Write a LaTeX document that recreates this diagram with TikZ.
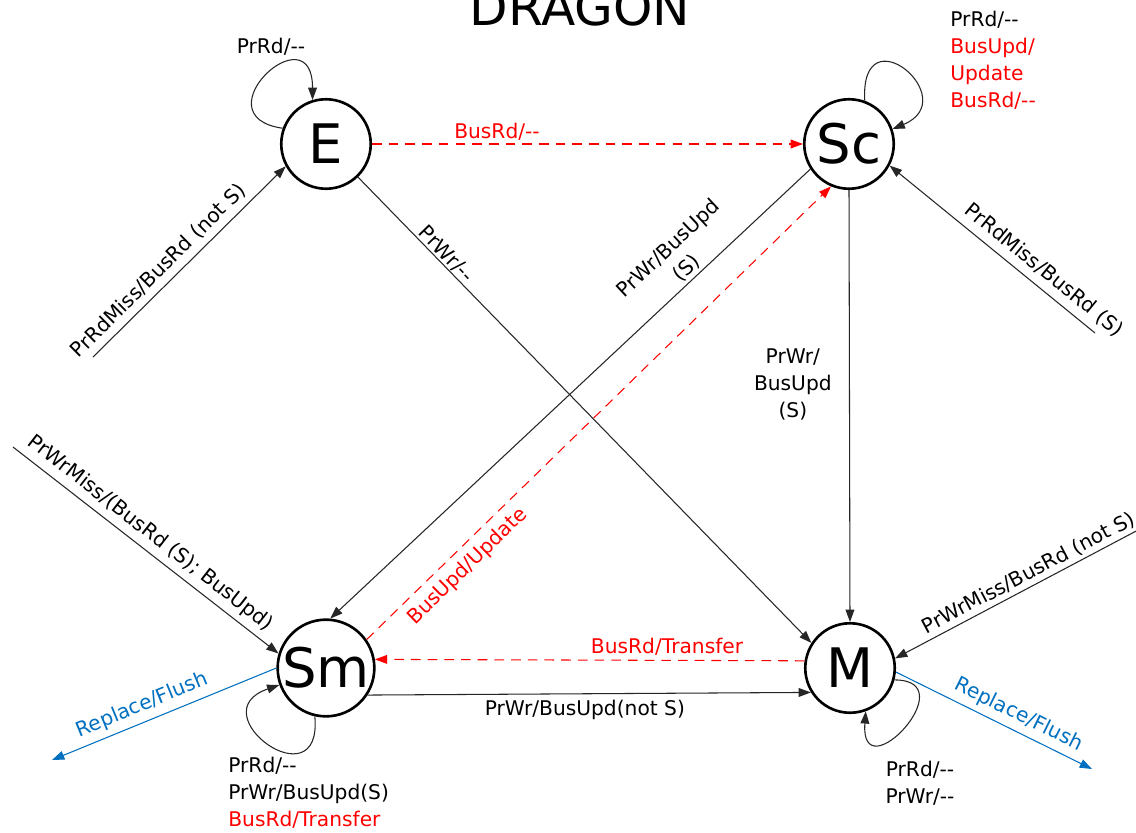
\documentclass[tikz,border=0pt]{standalone}
\usepackage{fontspec}
\setmainfont{DejaVu Sans}
\usetikzlibrary{arrows.meta}
\definecolor{flushblue}{RGB}{0,112,192}
\definecolor{busred}{RGB}{255,0,0}
% two separate hyphens (no en-dash ligature)
\newcommand{\nop}{-{}-}

\begin{document}
\begin{tikzpicture}[x=0.02cm,y=-0.02cm,
  state/.style={circle, draw, line width=1.5pt, minimum size=1.79cm, inner sep=0pt,
    font=\fontsize{31}{36}\selectfont},
  lbl/.style={font=\fontsize{11.5}{15.3}\selectfont},
  tr/.style={line width=0.6pt, draw=black!85, -{Triangle[length=7pt,width=5pt]}},
  snoop/.style={tr, draw=busred, dash pattern=on 5.5pt off 4pt},
  evict/.style={tr, draw=flushblue}]

\useasboundingbox (0,0) rectangle (1136,832);
\fill[white] (0,0) rectangle (1136,832);

% title
\node[font=\fontsize{28.5}{34}\selectfont, anchor=base] (title) at (580,25) {DRAGON};

% states
\node[state] (E)  at (326,144) {E};
\node[state] (Sc) at (849,144) {Sc};
\node[state] (Sm) at (326,668) {Sm};
\node[state] (M)  at (850,668) {M};

% free ends of incoming and outgoing transitions
\coordinate (inE)   at (93,357);
\coordinate (inSc)  at (1095,333);
\coordinate (inSm)  at (13,447);
\coordinate (inM)   at (1140,529);
\coordinate (outSm) at (52,760);
\coordinate (outM)  at (1092,769);

% processor-side transitions
\draw[tr] (inE) -- node[lbl, sloped, above, pos=0.395] (lErd) {PrRdMiss/BusRd (not S)} (E.209);
\draw[tr] (inSc) -- node[lbl, sloped, above, pos=0.30, inner sep=4pt] (lScrd) {PrRdMiss/BusRd (S)} (Sc.332);
\draw[tr] (inSm) -- node[lbl, sloped, above, pos=0.48] (lSmwr) {PrWrMiss/(BusRd (S); BusUpd)} (Sm.163);
\draw[tr] (inM) -- node[lbl, sloped, above, pos=0.43, inner sep=2pt] (lMwr) {PrWrMiss/BusRd (not S)} (M.12);

\draw[tr] (E.-46) -- node[lbl, sloped, above, pos=0.18, inner sep=0.5pt] (lEwr) {PrWr/\nop} (M.147);
\draw[tr] (Sc.213) -- node[lbl, sloped, above, pos=0.24, align=center, inner sep=1.5pt] (lScwr) {PrWr/BusUpd\\(S)} (Sm.85);
\draw[tr] (Sc.south) -- node[lbl, left=6.5pt, pos=0.45, align=center] (lScM) {PrWr/\\BusUpd\\(S)} (M.north);
\draw[tr] (Sm.327) -- node[lbl, below, pos=0.49] (lSmM) {PrWr/BusUpd(not S)} (M.212);

% bus-side transitions
\draw[snoop] (E.east) -- node[lbl, text=busred, above, pos=0.29, inner sep=2pt] (lEbus) {BusRd/\nop} (Sc.west);
\draw[snoop] (Sm.35) -- node[lbl, text=busred, sloped, below, pos=0.19, inner sep=4.5pt] (lSmupd) {BusUpd/Update} (Sc.247);
\draw[snoop] (M.171) -- node[lbl, text=busred, above, pos=0.32, inner sep=2.5pt] (lMbus) {BusRd/Transfer} (Sm.10);

% replacements
\draw[evict] (Sm.west) -- node[lbl, text=flushblue, sloped, above, pos=0.57] (lSmfl) {Replace/Flush} (outSm);
\draw[evict] (M.355) -- node[lbl, text=flushblue, sloped, above, pos=0.59] (lMfl) {Replace/Flush} (outM);

% self loops
\draw[tr] (E.160) .. controls +(-85,-12) and +(0,-90) .. (E.107);
\node[lbl] (lEloop) at (271,47) {PrRd/\nop};

\draw[tr] (Sc.70) .. controls +(-5,-90) and +(72,-30) .. (Sc.19);
\node[lbl, align=left, anchor=north west, inner sep=0pt] (lScloop) at (950,11)
  {PrRd/\nop\\\textcolor{busred}{BusUpd/}\\\textcolor{busred}{Update}\\\textcolor{busred}{BusRd/\nop}};

\draw[tr] (Sm.257) .. controls +(8,88) and +(-82,28) .. (Sm.200);
\node[lbl, align=left, anchor=north west, inner sep=0pt] (lSmloop) at (228,757)
  {PrRd/\nop\\PrWr/BusUpd(S)\\\textcolor{busred}{BusRd/Transfer}};

\draw[tr] (M.345) .. controls +(72,0) and +(-6,82) .. (M.290);
\node[lbl, align=center, anchor=north, inner sep=0pt] (lMloop) at (920,761) {PrRd/\nop\\PrWr/\nop};

\end{tikzpicture}
\end{document}
